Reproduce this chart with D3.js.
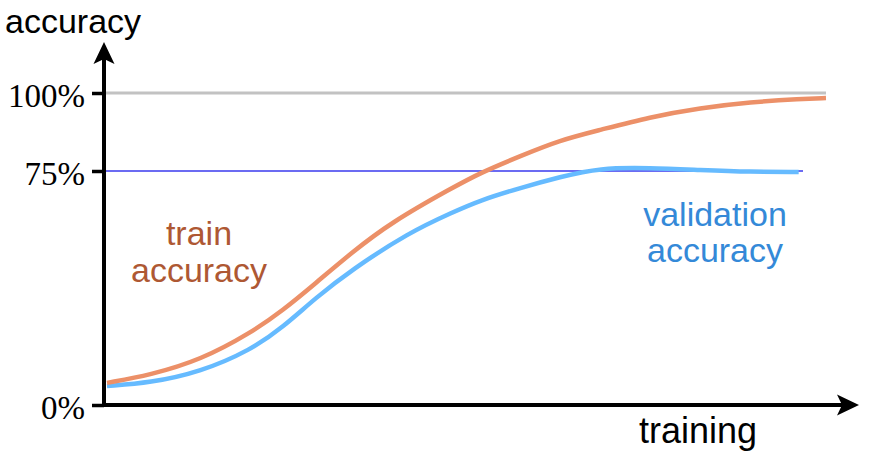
<!DOCTYPE html>
<html>
<head>
  <meta charset="utf-8">
  <script src="https://d3js.org/d3.v7.min.js"></script>
  <style>
    body { margin: 0; background: #fff; }
    svg { display: block; }
  </style>
</head>
<body>
  <div id="chart"></div>
<script>
  // values (x = training progress 0..100, y = accuracy %)
  const trainSteps = [0, 6, 13, 20, 24.5, 29, 34, 39.5, 48, 52, 57.5, 63, 68.5, 75.5, 82.5, 89.5, 96.5, 100];
  const trainAcc = [7.1, 9.6, 14.4, 23.1, 30.4, 39.0, 48.8, 58.5, 69.6, 74.5, 79.8, 84.9, 88.1, 92.3, 95.2, 97.1, 98.1, 98.4];

  const valSteps = [0, 6, 13, 20, 24.5, 29, 34, 42, 48, 52, 57.5, 63, 68.5, 75.5, 82.5, 89.5, 96.2];
  const valAcc = [6.1, 7.1, 10.6, 17.6, 25.0, 34.3, 43.3, 55.3, 61.7, 65.7, 69.6, 73.1, 76.0, 76.0, 75.3, 74.7, 74.7];

  const tickValues = [0, 75, 100];
  const tickLabels = ["0%", "75%", "100%"];
  const refValues = [100, 75];

  const width = 874, height = 460;
  const originX = 104, originY = 405;

  const svg = d3.select("#chart")
    .append("svg")
    .attr("width", width)
    .attr("height", height);

  const x = d3.scaleLinear().domain([0, 100]).range([107, 826]);
  const y = d3.scaleLinear().domain([0, 100]).range([originY, 93]);

  // reference lines at 100% and 75%
  const refStyle = [
    { stroke: "#c2c2c2", width: 3, end: 826 },
    { stroke: "#3a3aee", width: 1.3, end: 803 }
  ];
  svg.selectAll(".ref")
    .data(refValues)
    .enter()
    .append("line")
    .attr("class", "ref")
    .attr("x1", originX)
    .attr("x2", (d, i) => refStyle[i].end)
    .attr("y1", d => y(d))
    .attr("y2", d => y(d))
    .attr("stroke", (d, i) => refStyle[i].stroke)
    .attr("stroke-width", (d, i) => refStyle[i].width);

  const line = d3.line()
    .x(d => x(d[0]))
    .y(d => y(d[1]))
    .curve(d3.curveBasis);

  svg.append("path")
    .datum(valSteps.map((s, i) => [s, valAcc[i]]))
    .attr("d", line)
    .attr("fill", "none")
    .attr("stroke", "#66bbff")
    .attr("stroke-width", 4.5);

  svg.append("path")
    .datum(trainSteps.map((s, i) => [s, trainAcc[i]]))
    .attr("d", line)
    .attr("fill", "none")
    .attr("stroke", "#ec9068")
    .attr("stroke-width", 4.5);

  // y ticks
  const yAxis = svg.append("g")
    .attr("transform", `translate(${originX},0)`)
    .call(d3.axisLeft(y)
      .tickValues(tickValues)
      .tickFormat((d, i) => tickLabels[i])
      .tickSize(12)
      .tickPadding(7));
  yAxis.select(".domain").remove();
  yAxis.selectAll(".tick line")
    .attr("stroke", "#000")
    .attr("stroke-width", 3.5);
  yAxis.selectAll(".tick text")
    .attr("fill", "#000")
    .style("font-family", "'Liberation Serif', 'Times New Roman', serif")
    .style("font-size", "33px")
    .attr("dy", "0.4em");

  // axes with arrow heads
  svg.append("line")
    .attr("x1", originX).attr("y1", originY + 2)
    .attr("x2", originX).attr("y2", 58)
    .attr("stroke", "#000").attr("stroke-width", 4);
  svg.append("line")
    .attr("x1", originX - 2).attr("y1", originY)
    .attr("x2", 844).attr("y2", originY)
    .attr("stroke", "#000").attr("stroke-width", 4);

  svg.append("path")
    .attr("d", `M${originX},42 L${originX + 10.5},64 L${originX},59 L${originX - 10.5},64 Z`)
    .attr("fill", "#000");
  svg.append("path")
    .attr("d", `M859,${originY} L837,${originY - 10.5} L842,${originY} L837,${originY + 10.5} Z`)
    .attr("fill", "#000");

  const sans = "'Liberation Sans', Arial, Helvetica, sans-serif";

  svg.append("text")
    .attr("x", 5).attr("y", 33)
    .style("font-family", sans).style("font-size", "34px")
    .text("accuracy");

  svg.append("text")
    .attr("x", 639).attr("y", 443)
    .style("font-family", sans).style("font-size", "36px")
    .text("training");

  const trainLabel = svg.append("text")
    .attr("text-anchor", "middle")
    .style("font-family", sans).style("font-size", "34px")
    .attr("fill", "#ae5833");
  trainLabel.append("tspan").attr("x", 199).attr("y", 245).text("train");
  trainLabel.append("tspan").attr("x", 199).attr("y", 282).text("accuracy");

  const valLabel = svg.append("text")
    .attr("text-anchor", "middle")
    .style("font-family", sans).style("font-size", "34px")
    .attr("fill", "#3489d8");
  valLabel.append("tspan").attr("x", 715).attr("y", 226).text("validation");
  valLabel.append("tspan").attr("x", 715).attr("y", 262).text("accuracy");
</script>
</body>
</html>
